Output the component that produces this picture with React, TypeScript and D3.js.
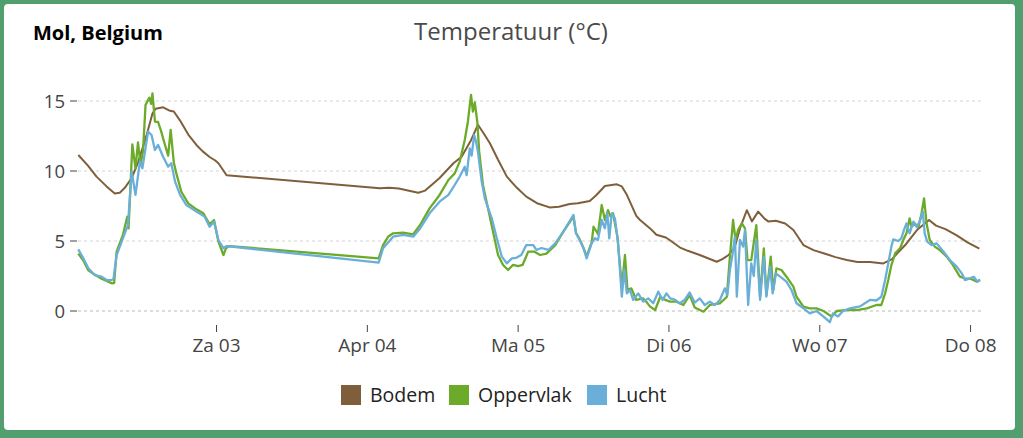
import React from 'react';
import * as d3 from 'd3';

const START = Date.UTC(2021, 3, 2);
const HOUR = 3600 * 1000;

const bodemHours = [2, 3.5, 4.9, 6.5, 7.8, 8.6, 9.4, 10.5, 11.5, 12.9, 13.8, 14.3, 15.5, 16.6, 17.2, 18.2, 19.5, 20.8, 21.8, 22.9, 23.8, 24.3, 25.6,
  50, 51.5, 53, 55, 56.1, 57.2, 57.9, 59.5, 61.7, 63, 64.5, 65.6, 66.5, 67.5, 68.8, 70.2, 71.8, 73.3, 75, 77, 78.5, 80.2, 81.5, 83.4, 84.5, 85.8, 87.7, 88.5, 89.3, 90.8, 91.4, 93, 94, 95.5, 96.1, 97.7, 99, 100.9,
  102, 103.6, 104.5, 105.5, 106.5, 107.3, 108.4, 109.2, 110.2, 111.2, 111.8, 113, 114.5, 115.8, 117.4, 119, 120.6, 122.5, 124.3, 126, 128, 130.1, 131.5, 132.5, 133.6, 135.5, 137.4, 138.5, 140, 141.8, 143.5, 145.4];
const bodemValues = [11.14, 10.4, 9.6, 8.9, 8.4, 8.45, 8.8, 9.5, 10.6, 12.6, 14.1, 14.45, 14.55, 14.3, 14.25, 13.6, 12.6, 11.86, 11.4, 11.0, 10.75, 10.55, 9.7,
  8.76, 8.8, 8.75, 8.55, 8.45, 8.6, 8.88, 9.5, 10.55, 11.02, 12.2, 13.3, 12.7, 11.98, 10.8, 9.6, 8.8, 8.17, 7.7, 7.4, 7.45, 7.64, 7.7, 7.85, 8.3, 8.93, 9.05, 8.9, 8.3, 6.8, 6.5, 5.9, 5.45, 5.25, 5.07, 4.55, 4.3, 4.0,
  3.8, 3.52, 3.7, 4.0, 4.6, 5.9, 7.2, 6.4, 7.1, 6.6, 6.4, 6.45, 6.25, 5.79, 4.71, 4.35, 4.12, 3.85, 3.64, 3.5, 3.5, 3.4, 3.7, 4.2, 4.71, 5.8, 6.5, 6.1, 5.85, 5.4, 4.9, 4.45];

const oppervlakHours = [2, 2.8, 3.6, 4.6, 5.7, 6.5, 7.3, 7.7, 8.1, 9.1, 9.8, 10, 10.6, 11.1, 11.5, 11.9, 12.3, 12.7, 13.3, 13.6, 13.8, 14.2, 14.7, 15.2, 15.8, 16.3, 16.7, 17.2, 17.6, 18.4, 19.5, 20.8, 21.9, 22.9, 23.6, 24.3, 25.1, 25.5, 26,
  49.8, 50.5, 51.3, 52.1, 53.7, 55.3, 56.4, 57.9, 59.5, 60.9, 61.9, 62.7, 63.5, 64, 64.5, 64.8, 65.1, 65.5, 65.8, 66.4, 67.2, 68, 68.8, 69.6, 70.4, 71.2, 72, 72.7, 73.6, 74.6, 75.5, 76.5, 77.9, 79.2, 80.8, 81.2, 81.8, 82.4, 82.9, 83.7, 84.0, 84.7, 85.3, 85.8, 86.3, 86.7, 87.1, 87.8, 88.5, 89.0, 89.4, 90.0, 90.8, 91.9, 92.5, 93.0, 93.8, 94.6, 95.4, 96.2, 97.2, 98.3, 99.3, 100.1,
  101.5, 102.5, 104.1, 105.2, 105.7, 106.2, 106.6, 107.0, 107.6, 108.1, 108.5, 109.1, 109.9, 110.5, 111.1, 111.5, 112.2, 112.6, 113.1, 113.9, 114.7, 115.8, 116.3, 117.4, 118.4, 119.5, 120.6, 121.9, 122.7, 124.3, 125.9, 127.5, 129.0, 129.8, 130.4, 130.9, 131.4, 132.0, 132.8, 133.3, 133.8, 134.3, 134.6, 135.1, 135.7, 136.2, 136.6, 137.0, 137.5, 138.3, 139.1, 140.2, 141.2, 142.3, 143.1, 144, 145, 145.5];
const oppervlakValues = [4.1, 3.6, 2.9, 2.6, 2.3, 2.15, 1.98, 2.0, 4.24, 5.43, 6.74, 5.9, 11.9, 10.19, 12.05, 10.43, 11.4, 14.71, 15.24, 14.8, 15.55, 13.52, 13.5, 12.81, 11.86, 11.1, 12.93, 10.6, 9.83, 8.52, 7.69, 7.26, 6.98, 6.19, 6.5, 4.95, 4.0, 4.48, 4.64,
  3.76, 4.71, 5.3, 5.55, 5.6, 5.48, 6.14, 7.33, 8.29, 9.36, 9.83, 10.67, 12.21, 13.52, 15.43, 14.24, 14.9, 13.5, 11.38, 9.0, 7.33, 5.67, 4.0, 3.29, 2.93, 3.3, 3.2, 3.29, 4.24, 4.24, 4.0, 4.1, 4.71, 5.67, 6.74, 5.6, 5.1, 4.5, 3.9, 4.9, 6.02, 5.5, 7.57, 6.5, 7.21, 6.74, 6.98, 5.31, 1.74, 4.0, 1.5, 1.62, 0.79, 0.9, 0.6, 0.31, 0.07, 1.0, 0.8, 0.67, 0.67, 0.43, 1.14, 0.25,
  -0.05, 0.43, 0.55, 1.0, 3.88, 6.5, 5.07, 5.79, 6.26, 5.9, 3.64, 3.64, 6.14, 1.02, 4.48, 1.14, 3.88, 1.5, 3.05, 2.93, 2.45, 1.74, 1.02, 0.31, 0.19, 0.19, 0.0, -0.4, 0.0, 0.07, 0.07, 0.19, 0.43, 0.43, 1.26, 2.21, 3.28, 4.12, 4.5, 5.07, 5.55, 6.62, 6.0, 6.26, 6.0, 6.98, 8.05, 6.26, 5.07, 4.6, 4.36, 3.88, 3.28, 2.45, 2.33, 2.3, 2.1, 2.2];

const luchtHours = [2, 2.8, 3.6, 4.6, 5.7, 6.5, 7.3, 7.6, 8.1, 9.1, 9.9, 10.5, 11.1, 11.8, 12.2, 13.1, 13.65, 14.2, 14.7, 15.5, 16.3, 16.8, 17.4, 18.2, 19.2, 20.8, 22.1, 22.9, 23.6, 24.3, 25.1, 25.6,
  49.8, 50.5, 52.1, 53.7, 55.3, 56.4, 57.9, 59.5, 60.9, 61.9, 62.7, 63.5, 63.8, 64.3, 64.6, 65.0, 65.3, 65.6, 66.2, 66.7, 67.8, 68.6, 69.4, 70.2, 71.0, 71.7, 72.5, 73.3, 74.4, 74.9, 75.7, 76.8, 77.9, 79.2, 80.8, 81.2, 81.8, 82.4, 82.9, 83.7, 84.2, 84.7, 85.3, 85.8, 86.2, 86.5, 86.9, 87.4, 87.9, 88.5, 88.9, 89.3, 89.8, 90.3, 91.1, 91.9, 92.7, 93.5, 94.3, 95.0, 95.6, 96.2, 97.0, 97.7, 98.5, 99.3, 100.1, 100.9,
  101.7, 102.5, 103.3, 104.1, 104.9, 105.3, 105.7, 106.1, 106.5, 106.8, 107.3, 107.8, 108.1, 108.6, 109.1, 109.5, 109.9, 110.5, 111.1, 111.5, 112.1, 112.5, 113.0, 113.7, 114.7, 115.5, 116.3, 117.4, 118.4, 119.5, 120.6, 121.6, 122.1, 122.9, 123.7, 124.8, 126.4, 128.0, 129.0, 129.8, 130.4, 130.9, 131.4, 131.7, 132.5, 133.0, 133.4, 133.8, 134.3, 134.9, 135.4, 135.9, 136.4, 136.7, 137.1, 137.8, 138.6, 139.7, 140.7, 141.8, 142.6, 143.1, 143.9, 144.5, 145.1, 145.5];
const luchtValues = [4.4, 3.76, 3.05, 2.57, 2.45, 2.21, 2.2, 2.3, 4.0, 5.19, 6.14, 9.95, 8.29, 10.67, 10.19, 12.81, 12.57, 11.5, 11.86, 11.02, 10.31, 10.55, 9.24, 8.29, 7.57, 7.1, 6.74, 6.02, 6.38, 5.07, 4.48, 4.64,
  3.45, 4.48, 5.31, 5.43, 5.31, 5.9, 6.98, 7.81, 8.29, 9.0, 9.6, 10.31, 9.7, 11.62, 11.1, 12.57, 12.1, 11.38, 9.24, 8.05, 6.62, 5.19, 3.88, 3.4, 3.76, 3.8, 4.0, 4.71, 4.71, 4.36, 4.5, 4.36, 4.83, 5.67, 6.86, 5.55, 5.07, 4.48, 3.76, 4.83, 5.2, 5.07, 6.5, 5.9, 6.98, 5.19, 6.98, 6.62, 4.83, 1.02, 2.93, 1.26, 1.5, 0.79, 1.26, 0.67, 0.9, 0.55, 1.38, 0.79, 1.26, 0.9, 0.79, 0.55, 0.79, 1.32, 0.6, 0.9,
  0.43, 0.67, 0.43, 0.79, 1.62, 1.14, 2.93, 4.0, 5.31, 1.02, 5.07, 4.6, 5.79, 0.43, 3.4, 2.5, 5.07, 0.79, 3.88, 1.02, 3.17, 1.26, 2.69, 2.45, 2.1, 1.5, 0.55, 0.2, -0.17, 0.0, -0.4, -0.8, -0.17, -0.4, 0.0, 0.19, 0.33, 0.79, 0.75, 1.02, 2.21, 3.4, 4.6, 5.12, 5.0, 5.2, 5.79, 6.26, 5.55, 6.38, 6.0, 6.38, 7.1, 5.55, 4.95, 4.71, 4.83, 4.24, 3.64, 3.17, 2.69, 2.21, 2.33, 2.45, 2.1, 2.26];

const xTickHours = [24, 48, 72, 96, 120, 144];
const xTickLabels = ['Za 03', 'Apr 04', 'Ma 05', 'Di 06', 'Wo 07', 'Do 08'];
const yTicks = [0, 5, 10, 15];

const seriesNames = ['Bodem', 'Oppervlak', 'Lucht'];
const seriesColors = ['#7f5f3b', '#6cab2a', '#6aafd7'];

const FONT = '"Open Sans", sans-serif';

const toDate = (h: number) => new Date(START + h * HOUR);

export default function App() {
  const x = d3.scaleTime().domain([toDate(2), toDate(145.5)]).range([78.3, 980]);
  const y = d3.scaleLinear().domain([0, 15]).range([311, 101]);
  const line = d3.line<[number, number]>()
    .x(d => x(toDate(d[0])))
    .y(d => y(d[1]));

  const series = [
    bodemHours.map((h, i) => [h, bodemValues[i]] as [number, number]),
    oppervlakHours.map((h, i) => [h, oppervlakValues[i]] as [number, number]),
    luchtHours.map((h, i) => [h, luchtValues[i]] as [number, number]),
  ];

  const legendX = [341, 449, 587];

  return (
    <svg width={1023} height={438} style={{ position: 'absolute', left: 0, top: 0 }}>
      <rect x={0} y={0} width={1023} height={438} fill="#519f6f" />
      <rect x={4} y={4} width={1011} height={426} rx={4} fill="#ffffff" />
      <text x={33} y={40} fontFamily={FONT} fontWeight={700} fontSize={20} fill="#000">Mol, Belgium</text>
      <text x={511} y={40} textAnchor="middle" fontFamily={FONT} fontSize={24} fill="#4a4a4a">Temperatuur (°C)</text>

      {yTicks.map(t => (
        <g key={t}>
          <line x1={78} x2={981} y1={y(t)} y2={y(t)} stroke={t === 0 ? '#bbb' : '#d4d4d4'} strokeDasharray="3,3" strokeWidth={1} />
          <line x1={70} x2={77} y1={y(t)} y2={y(t)} stroke="#444" strokeWidth={1} />
          <text x={65} y={y(t) + 6.5} textAnchor="end" fontFamily={FONT} fontSize={18.5} fill="#444">{t}</text>
        </g>
      ))}

      {xTickHours.map((h, i) => (
        <g key={h}>
          <line x1={x(toDate(h))} x2={x(toDate(h))} y1={325} y2={332} stroke="#444" strokeWidth={1} />
          <text x={x(toDate(h))} y={352} textAnchor="middle" fontFamily={FONT} fontSize={19} fill="#444">{xTickLabels[i]}</text>
        </g>
      ))}

      {series.map((s, i) => (
        <path key={seriesNames[i]} d={line(s) || ''} fill="none" stroke={seriesColors[i]} strokeWidth={i === 0 ? 2 : 2.3} strokeLinejoin="round" />
      ))}

      {seriesNames.map((n, i) => (
        <g key={n}>
          <rect x={legendX[i]} y={385} width={20} height={20} fill={seriesColors[i]} />
          <text x={legendX[i] + 29} y={402} fontFamily={FONT} fontSize={19.5} fill="#222">{n}</text>
        </g>
      ))}
    </svg>
  );
}
